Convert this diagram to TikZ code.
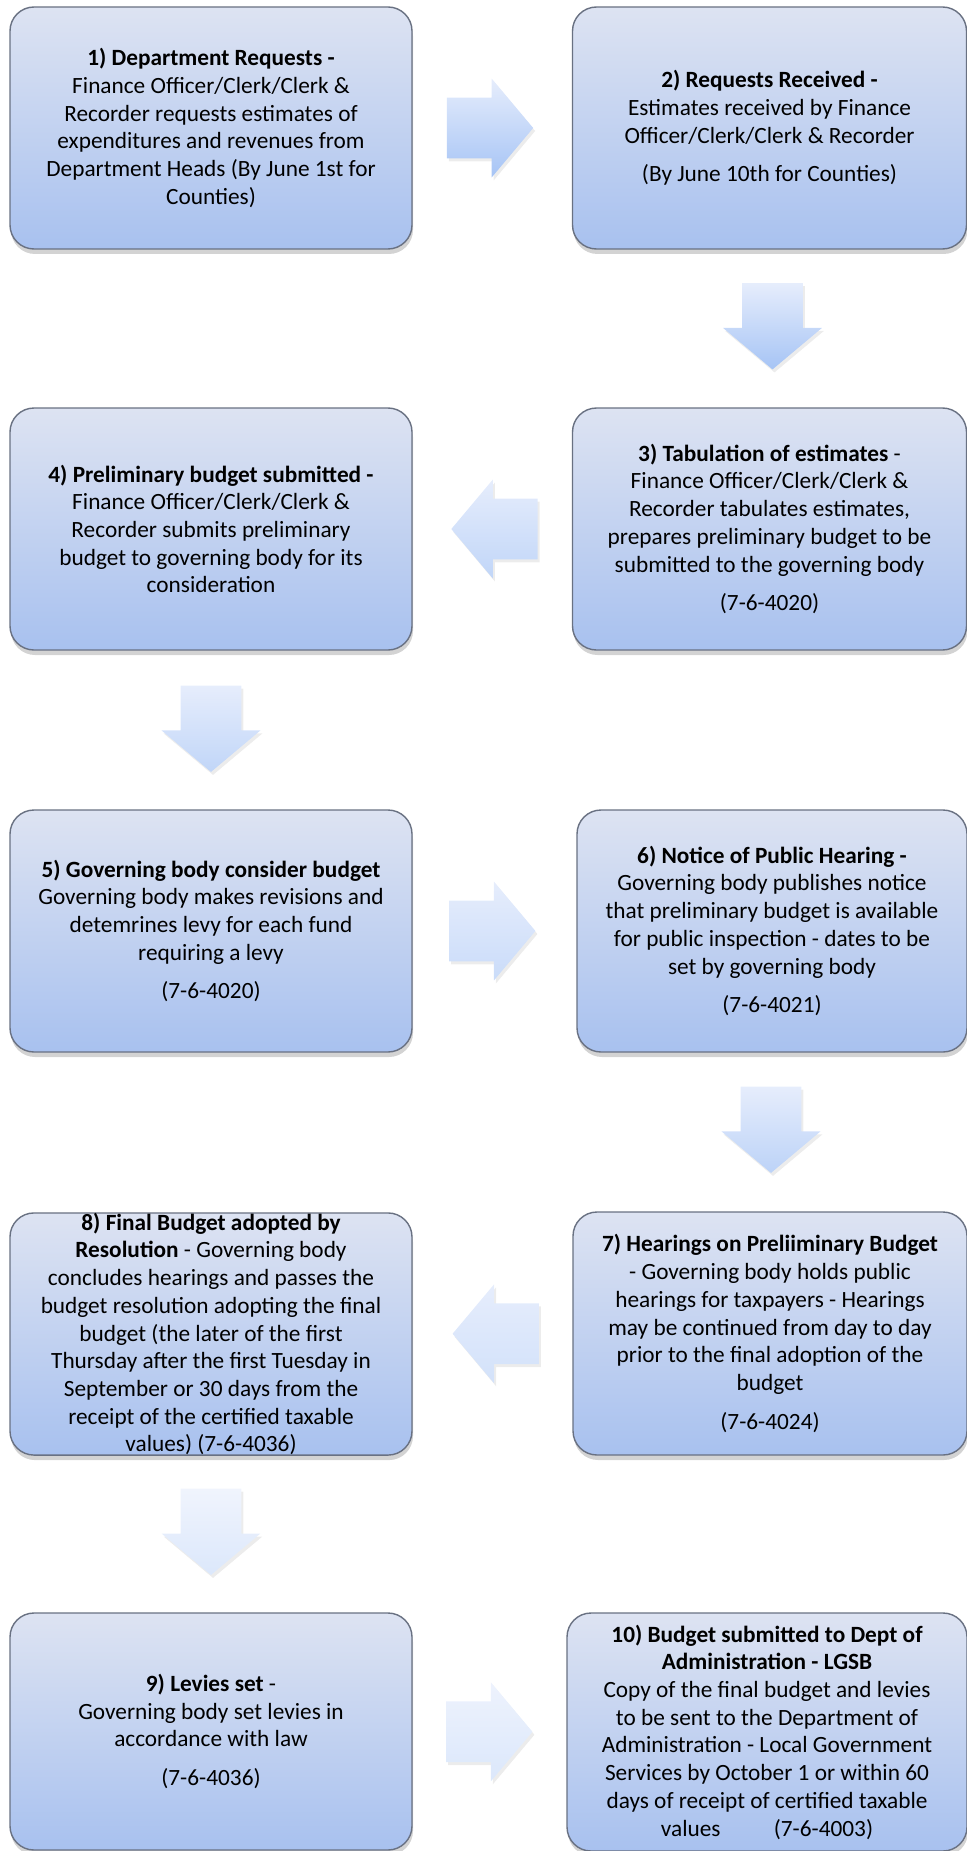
\documentclass[tikz,border=0pt]{standalone}
\usepackage{fontspec}
\setmainfont{Carlito}
\usetikzlibrary{shapes.arrows,shadows,calc}

\definecolor{boxtop}{RGB}{221,227,242}
\definecolor{boxbot}{RGB}{168,193,239}
\definecolor{boxline}{RGB}{105,113,130}
\definecolor{arrtop}{RGB}{230,237,252}
\definecolor{arrbot}{RGB}{166,196,245}

\begin{document}
\begin{tikzpicture}[x=0.5pt,y=-0.5pt,
    stage/.style={shape=rectangle,rounded corners=12pt,draw=boxline,line width=0.7pt,
      top color=boxtop,bottom color=boxbot,align=center,inner sep=0pt,
      font=\fontsize{11.65}{13.85}\selectfont,
      drop shadow={shadow xshift=0.5pt,shadow yshift=-2.5pt,opacity=0.35}},
    blockarrow/.style={shape=single arrow,draw=none,inner sep=15pt,minimum height=42.5pt,
      single arrow head extend=9.5pt,single arrow tip angle=100,
      drop shadow={shadow xshift=1pt,shadow yshift=-1.5pt,opacity=0.15}}]
    \useasboundingbox (0,0) rectangle (967,1851);

    \node[stage,minimum width=201pt,minimum height=121pt] (s1) at (211,128)
      {\textbf{1) Department Requests -}\\ Finance Officer/Clerk/Clerk \&\\
       Recorder requests estimates of\\ expenditures and revenues from\\
       Department Heads (By June 1st for\\ Counties)};
    \node[stage,minimum width=197pt,minimum height=121pt] (s2) at (769.5,128)
      {\textbf{2) Requests Received -}\\ Estimates received by Finance\\
       Officer/Clerk/Clerk \& Recorder\\[5.5pt] (By June 10th for Counties)};
    \node[stage,minimum width=197pt,minimum height=121pt] (s3) at (769.5,529)
      {\textbf{3) Tabulation of estimates} -\\ Finance Officer/Clerk/Clerk \&\\
       Recorder tabulates estimates,\\ prepares preliminary budget to be\\
       submitted to the governing body\\[5.5pt] (7-6-4020)};
    \node[stage,minimum width=201pt,minimum height=121pt] (s4) at (211,529)
      {\textbf{4) Preliminary budget submitted -}\\ Finance Officer/Clerk/Clerk \&\\
       Recorder submits preliminary\\ budget to governing body for its\\ consideration};
    \node[stage,minimum width=201pt,minimum height=121pt] (s5) at (211,931)
      {\textbf{5) Governing body consider budget}\\ Governing body makes revisions and\\
       detemrines levy for each fund\\ requiring a levy\\[5.5pt] (7-6-4020)};
    \node[stage,minimum width=195pt,minimum height=121pt] (s6) at (772,931)
      {\textbf{6) Notice of Public Hearing -}\\ Governing body publishes notice\\
       that preliminary budget is available\\ for public inspection - dates to be\\
       set by governing body\\[5.5pt] (7-6-4021)};
    \node[stage,minimum width=197pt,minimum height=121.5pt] (s7) at (770,1333.5)
      {\textbf{7) Hearings on Preliiminary Budget}\\ - Governing body holds public\\
       hearings for taxpayers - Hearings\\ may be continued from day to day\\
       prior to the final adoption of the\\ budget\\[5.5pt] (7-6-4024)};
    \node[stage,minimum width=201pt,minimum height=121pt] (s8) at (211,1334)
      {\textbf{8) Final Budget adopted by}\\ \textbf{Resolution} - Governing body\\
       concludes hearings and passes the\\ budget resolution adopting the final\\
       budget (the later of the first\\ Thursday after the first Tuesday in\\
       September or 30 days from the\\ receipt of the certified taxable\\
       values) (7-6-4036)};
    \node[stage,minimum width=201pt,minimum height=118.5pt] (s9) at (211,1731.5)
      {\textbf{9) Levies set} -\\ Governing body set levies in\\
       accordance with law\\[5.5pt] (7-6-4036)};
    \node[stage,minimum width=200pt,minimum height=119pt] (s10) at (767,1732)
      {\textbf{10) Budget submitted to Dept of}\\ \textbf{Administration - LGSB}\\
       Copy of the final budget and levies\\ to be sent to the Department of\\
       Administration - Local Government\\ Services by October 1 or within 60\\
       days of receipt of certified taxable\\ values\hspace{24pt} (7-6-4003)};

    % block arrows between the stages
    \node[blockarrow,top color=arrtop,bottom color=arrbot] (a12) at ($(s1.east)!.5!(s2.west)+(-15,0)$) {};
    \node[blockarrow,shape border rotate=270,top color=arrtop,bottom color=arrbot] (a23) at ($(s2.south)!.5!(s3.north)+(3,-15)$) {};
    \node[blockarrow,shape border rotate=180,top color=arrtop,bottom color=arrbot!70!white] (a34) at ($(s4.east)!.5!(s3.west)+(15,0)$) {};
    \node[blockarrow,shape border rotate=270,top color=arrtop,bottom color=arrbot!70!white] (a45) at ($(s4.south)!.5!(s5.north)+(0,-14)$) {};
    \node[blockarrow,top color=arrtop,bottom color=arrbot!60!white] (a56) at ($(s5.east)!.5!(s6.west)+(-15,0)$) {};
    \node[blockarrow,shape border rotate=270,top color=arrtop,bottom color=arrbot!75!white] (a67) at ($(s6.south)!.5!(s7.north)+(0,-15)$) {};
    \node[blockarrow,shape border rotate=180,top color=arrtop,bottom color=arrbot!50!white] (a78) at ($(s8.east)!.5!(s7.west)+(16,0)$) {};
    \node[blockarrow,shape border rotate=270,top color=arrtop!60!white,bottom color=arrbot!40!white] (a89) at ($(s8.south)!.5!(s9.north)+(0,-15)$) {};
    \node[blockarrow,top color=arrtop!70!white,bottom color=arrbot!40!white] (a910) at ($(s9.east)!.5!(s10.west)+(-13,0)$) {};
\end{tikzpicture}
\end{document}
